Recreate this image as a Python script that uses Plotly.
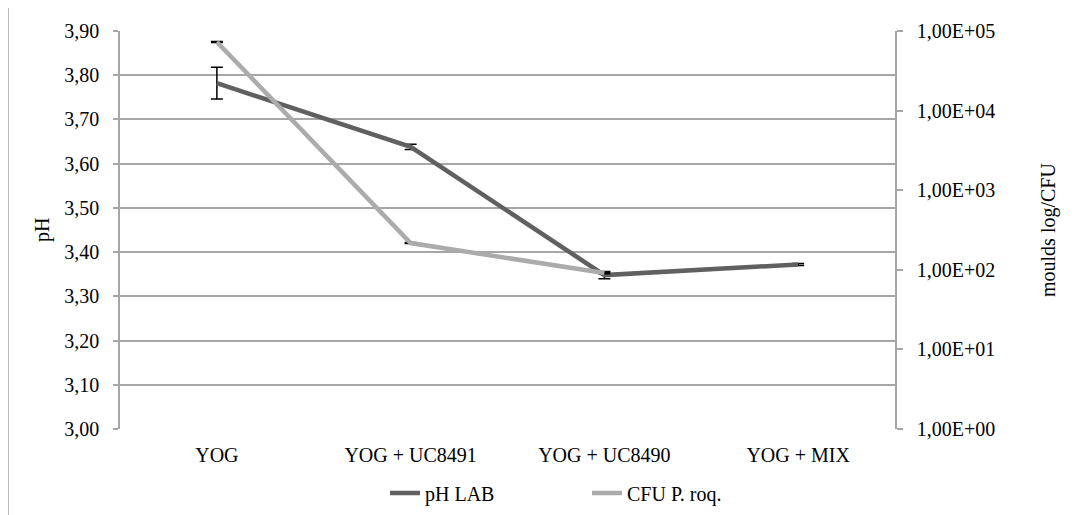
import plotly.graph_objects as go

categories = ["YOG", "YOG + UC8491", "YOG + UC8490", "YOG + MIX"]
ph_lab = [3.782, 3.638, 3.348, 3.372]
ph_err = [0.036, 0.006, 0.008, 0.002]
cfu_categories = ["YOG", "YOG + UC8491", "YOG + UC8490"]
cfu_proq = [72800, 217, 91]
cfu_err = [900, 3, 2]

ph_ticks = [3.0 + i * 0.1 for i in range(10)]
ph_ticktext = [f"{v:.2f}".replace(".", ",") for v in ph_ticks]
cfu_ticks = [1, 10, 100, 1000, 10000, 100000]
cfu_ticktext = ["1,00E+00", "1,00E+01", "1,00E+02", "1,00E+03", "1,00E+04", "1,00E+05"]

FONT = "Liberation Serif"
FS = 20
GRID = "#a6a6a6"

W, H = 1079, 507
L, R, T, B = 112, 192, 23, 86
PW, PH = W - L - R, H - T - B

def px(xf):
    return (xf - L) / PW

def py(yf):
    return (T + PH - yf) / PH

fig = go.Figure()
fig.add_trace(go.Scatter(
    x=categories, y=ph_lab, name="pH LAB", mode="lines",
    line=dict(color="#606060", width=4.5),
    error_y=dict(type="data", array=ph_err, visible=True, color="black", thickness=1.5, width=6),
    yaxis="y",
))
fig.add_trace(go.Scatter(
    x=cfu_categories, y=cfu_proq, name="CFU P. roq.", mode="lines",
    line=dict(color="#ababab", width=4.5),
    error_y=dict(type="data", array=cfu_err, visible=True, color="black", thickness=1.5, width=6),
    yaxis="y2",
))

fig.update_layout(
    width=W, height=H,
    margin=dict(l=L, r=R, t=T, b=B, autoexpand=False),
    paper_bgcolor="white", plot_bgcolor="white",
    font=dict(family=FONT, size=FS, color="black"),
    showlegend=True,
    legend=dict(orientation="h", x=px(377), xanchor="left", y=py(485), yanchor="middle",
                font=dict(family=FONT, size=FS), entrywidth=157, entrywidthmode="pixels",
                traceorder="normal", bgcolor="rgba(0,0,0,0)"),
    xaxis=dict(type="category", categoryorder="array", categoryarray=categories,
               range=[-0.5, 3.5], showgrid=False, showline=False, ticks="",
               ticklabelstandoff=12, tickfont=dict(family=FONT, size=FS)),
    yaxis=dict(range=[3.0, 3.9], tickvals=ph_ticks, ticktext=ph_ticktext,
               showgrid=True, gridcolor=GRID, gridwidth=1.5,
               showline=True, linecolor=GRID, linewidth=1.5,
               ticks="outside", ticklen=5, tickcolor=GRID, tickwidth=1.5,
               ticklabelstandoff=10, zeroline=False,
               tickfont=dict(family=FONT, size=FS)),
    yaxis2=dict(type="log", range=[0, 5], tickvals=cfu_ticks, ticktext=cfu_ticktext,
                overlaying="y", side="right", showgrid=False,
                showline=True, linecolor=GRID, linewidth=1.5,
                ticks="outside", ticklen=6, tickcolor=GRID, tickwidth=1.5,
                ticklabelstandoff=10, zeroline=False,
                tickfont=dict(family=FONT, size=FS)),
    annotations=[
        dict(text="pH", xref="paper", yref="paper", x=px(34), y=0.5,
             xanchor="center", yanchor="middle", textangle=-90, showarrow=False,
             font=dict(family=FONT, size=FS)),
        dict(text="moulds log/CFU", xref="paper", yref="paper", x=px(1040), y=0.5,
             xanchor="center", yanchor="middle", textangle=-90, showarrow=False,
             font=dict(family=FONT, size=FS)),
    ],
    shapes=[
        dict(type="rect", xref="paper", yref="paper",
             x0=px(0), x1=px(W + 10), y0=py(H + 10), y1=py(-2),
             line=dict(color="#8c8c8c", width=1.2), fillcolor="rgba(0,0,0,0)", layer="below"),
    ],
)

fig.write_html("out.html")
